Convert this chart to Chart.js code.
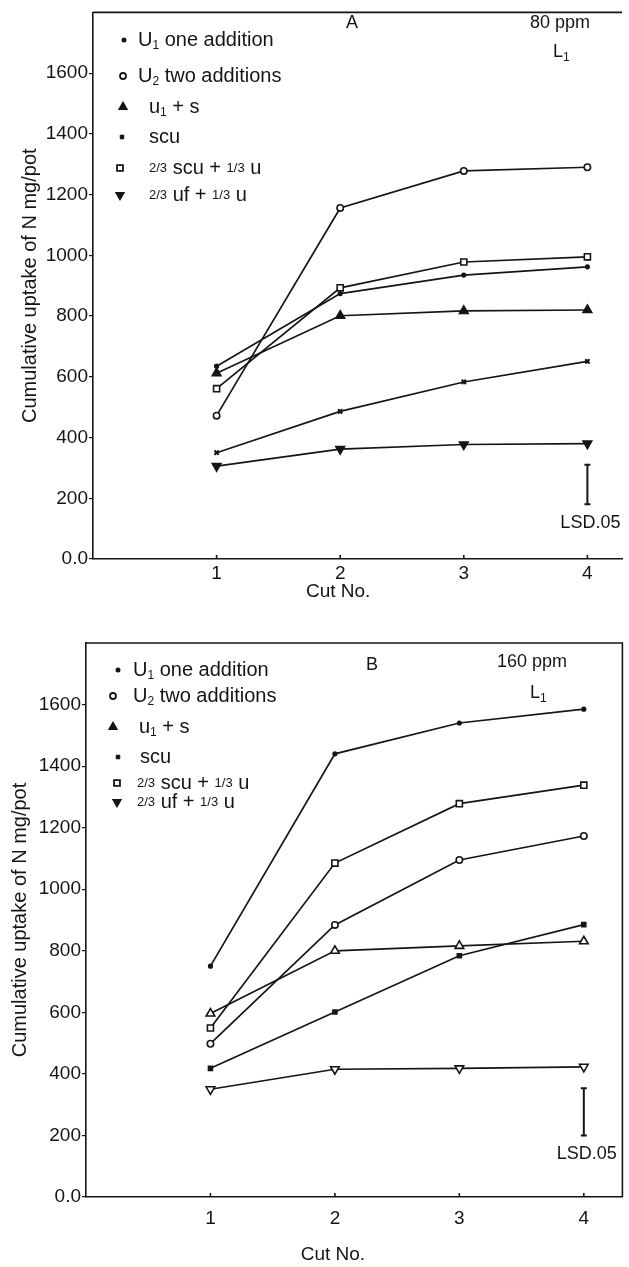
<!DOCTYPE html>
<html>
<head>
<meta charset="utf-8">
<script src="https://cdn.jsdelivr.net/npm/chart.js@4.4.1/dist/chart.umd.min.js"></script>
<style>
  html, body { margin: 0; padding: 0; background: #fff; }
  #wrap { position: relative; width: 629px; height: 1267px; }
  canvas { position: absolute; left: 0; }
</style>
</head>
<body>
<div id="wrap">
  <canvas id="chartA" width="629" height="630" style="top:0"></canvas>
  <canvas id="chartB" width="629" height="637" style="top:630px"></canvas>
</div>
<script>
// cut numbers (x axis) and y tick values
const cuts = [1, 2, 3, 4];
const yTicks = [0, 200, 400, 600, 800, 1000, 1200, 1400, 1600];
const seriesNames = ['U1 one addition', 'U2 two additions', 'u1 + s', 'scu', '2/3 scu + 1/3 u', '2/3 uf + 1/3 u'];

// panel A, 80 ppm
const aU1 = [635, 874, 935, 962];
const aU2 = [472, 1156, 1278, 1290];
const aU1s = [612, 801, 817, 820];
const aScu = [350, 486, 583, 651];
const aScuU = [561, 893, 978, 995];
const aUfU = [306, 362, 377, 380];
const aLsd = [180, 310];

// panel B, 160 ppm
const bU1 = [750, 1440, 1540, 1585];
const bU2 = [498, 884, 1095, 1173];
const bU1s = [596, 800, 816, 831];
const bScu = [418, 601, 784, 885];
const bScuU = [549, 1085, 1278, 1338];
const bUfU = [350, 415, 418, 423];
const bLsd = [200, 353];

const ink = '#151515';
const FONT = '"Liberation Sans", Arial, sans-serif';

function pts(vals) {
  return cuts.map((c, i) => ({ x: c, y: vals[i] }));
}

function ds(label, vals, style) {
  return Object.assign({
    label: label,
    data: pts(vals),
    borderColor: ink,
    borderWidth: 1.7,
    tension: 0,
    fill: false,
    pointBorderColor: ink,
    pointBorderWidth: 1.6,
    pointBackgroundColor: ink
  }, style);
}

// legend rows: marker style + rich text pieces
const legendRows = [
  { mk: { pointStyle: 'circle', radius: 1.6, fill: true },
    txt: [['U', 20], ['1', 12, 6], [' one addition', 20]] },
  { mk: { pointStyle: 'circle', radius: 3, fill: false },
    txt: [['U', 20], ['2', 12, 6], [' two additions', 20]] },
  { mk: { pointStyle: 'triangle', radius: 4.2, fill: true },
    txt: [['u', 20], ['1', 12, 6], [' + s', 20]] },
  { mk: { pointStyle: 'crossRot', radius: 2.6, fill: true },
    txt: [['scu', 20]] },
  { mk: { pointStyle: 'rect', radius: 4.2, fill: false },
    txt: [['2/3', 13], [' scu + ', 20], ['1/3', 13], [' u', 20]] },
  { mk: { pointStyle: 'triangle', radius: 4.2, rotation: 180, fill: true },
    txt: [['2/3', 13], [' uf + ', 20], ['1/3', 13], [' u', 20]] }
];

function drawMarker(ctx, mk, x, y) {
  ctx.fillStyle = mk.fill ? ink : '#fff';
  ctx.strokeStyle = ink;
  ctx.lineWidth = mk.pointStyle === 'crossRot' ? 2.4 : 1.8;
  Chart.helpers.drawPoint(ctx, {
    pointStyle: mk.pointStyle, radius: mk.radius, rotation: mk.rotation || 0, borderWidth: ctx.lineWidth
  }, x, y);
}

function drawRich(ctx, pieces, x, y) {
  ctx.textBaseline = 'middle';
  ctx.textAlign = 'left';
  pieces.forEach(p => {
    ctx.font = p[1] + 'px ' + FONT;
    ctx.fillText(p[0], x, y + (p[2] || 0));
    x += ctx.measureText(p[0]).width;
  });
}

const panelDecor = {
  id: 'panelDecor',
  afterDraw(chart, args, o) {
    const ctx = chart.ctx, a = chart.chartArea;
    const xs = chart.scales.x, ys = chart.scales.y;
    ctx.save();
    ctx.strokeStyle = ink;
    ctx.fillStyle = ink;
    ctx.lineWidth = 1.6;

    // frame: top (and right for B)
    ctx.beginPath();
    ctx.moveTo(a.left, a.top);
    ctx.lineTo(a.right, a.top);
    if (o.rightBorder) ctx.lineTo(a.right, a.bottom);
    ctx.stroke();

    // small tick marks on the x axis, pointing inward
    cuts.forEach(c => {
      const x = xs.getPixelForValue(c);
      ctx.beginPath();
      ctx.moveTo(x, a.bottom);
      ctx.lineTo(x, a.bottom - 4);
      ctx.stroke();
    });

    // x axis title sits under cut 2 in the original
    ctx.font = '19px ' + FONT;
    ctx.textAlign = 'center';
    ctx.textBaseline = 'middle';
    ctx.fillText('Cut No.', xs.getPixelForValue(2) - 2, o.xTitleY);

    // LSD bar
    const lx = xs.getPixelForValue(4);
    const y1 = ys.getPixelForValue(o.lsd[0]), y2 = ys.getPixelForValue(o.lsd[1]);
    ctx.lineWidth = 2;
    ctx.beginPath();
    ctx.moveTo(lx, y1); ctx.lineTo(lx, y2);
    ctx.moveTo(lx - 3, y1); ctx.lineTo(lx + 3, y1);
    ctx.moveTo(lx - 3, y2); ctx.lineTo(lx + 3, y2);
    ctx.stroke();
    ctx.font = '18px ' + FONT;
    ctx.fillText('LSD.05', lx + 3, ys.getPixelForValue(o.lsdLabel));

    // panel letter, rate and L1
    ctx.fillText(o.letter, o.letterXY[0], o.letterXY[1]);
    ctx.fillText(o.ppm, o.ppmXY[0], o.ppmXY[1]);
    drawRich(ctx, [['L', 18], ['1', 12, 6]], o.lXY[0], o.lXY[1]);

    // legend
    legendRows.forEach((r, i) => {
      drawMarker(ctx, r.mk, o.legMkX[i], o.legY[i]);
      ctx.fillStyle = ink;
      drawRich(ctx, r.txt, o.legTxtX[i], o.legY[i]);
    });
    ctx.restore();
  }
};

function makeChart(id, sets, cfg) {
  return new Chart(document.getElementById(id), {
    type: 'line',
    data: { datasets: sets },
    options: {
      responsive: false,
      animation: false,
      events: [],
      layout: { padding: cfg.padding },
      plugins: {
        legend: { display: false },
        tooltip: { enabled: false },
        panelDecor: cfg.decor
      },
      scales: {
        x: {
          type: 'linear',
          min: 0,
          max: cfg.xMax,
          afterBuildTicks: s => { s.ticks = cuts.map(v => ({ value: v })); },
          afterFit: s => { s.height = cfg.xHeight; },
          grid: { display: false, drawTicks: false },
          border: { display: true, color: ink, width: 1.6 },
          ticks: {
            color: ink,
            padding: cfg.xTickPad,
            font: { family: FONT, size: 19 },
            maxRotation: 0
          },
          title: { display: false, text: 'Cut No.' }
        },
        y: {
          type: 'linear',
          min: 0,
          max: 1800,
          afterBuildTicks: s => { s.ticks = yTicks.map(v => ({ value: v })); },
          afterFit: s => { s.width = cfg.yWidth; },
          grid: { display: true, drawOnChartArea: false, drawTicks: true, tickLength: 4, color: ink, lineWidth: 1.2 },
          border: { display: true, color: ink, width: 1.6 },
          ticks: {
            color: ink,
            padding: 1,
            font: { family: FONT, size: 19 },
            callback: v => (v === 0 ? '0.0' : String(v))
          },
          title: {
            display: true,
            text: 'Cumulative uptake of N mg/pot',
            color: ink,
            font: { family: FONT, size: 20 },
            padding: { top: cfg.yTitlePad, bottom: 0 }
          }
        }
      }
    },
    plugins: [panelDecor]
  });
}

const openW = '#fff';

makeChart('chartA', [
  ds(seriesNames[0], aU1, { pointStyle: 'circle', pointRadius: 1.8 }),
  ds(seriesNames[1], aU2, { pointStyle: 'circle', pointRadius: 3.2, pointBackgroundColor: openW }),
  ds(seriesNames[2], aU1s, { pointStyle: 'triangle', pointRadius: 5 }),
  ds(seriesNames[3], aScu, { pointStyle: 'crossRot', pointRadius: 3, pointBorderWidth: 2.2 }),
  ds(seriesNames[4], aScuU, { pointStyle: 'rect', pointRadius: 4.3, pointBackgroundColor: openW }),
  ds(seriesNames[5], aUfU, { pointStyle: 'triangle', pointRotation: 180, pointRadius: 5 })
], {
  padding: { top: 8, right: 7, left: 0, bottom: 0 },
  xMax: 4.28, xHeight: 71, xTickPad: 3,
  yWidth: 93, yTitlePad: 18,
  decor: {
    rightBorder: false, lsd: aLsd, lsdLabel: 120, xTitleY: 592,
    letter: 'A', letterXY: [352, 23], ppm: '80 ppm', ppmXY: [560, 23], lXY: [553, 52],
    legY: [40, 76, 107, 137, 168, 195],
    legMkX: [124, 123, 123, 122, 120, 120],
    legTxtX: [138, 138, 149, 149, 149, 149]
  }
});

makeChart('chartB', [
  ds(seriesNames[0], bU1, { pointStyle: 'circle', pointRadius: 1.8 }),
  ds(seriesNames[1], bU2, { pointStyle: 'circle', pointRadius: 3.2, pointBackgroundColor: openW }),
  ds(seriesNames[2], bU1s, { pointStyle: 'triangle', pointRadius: 5, pointBackgroundColor: openW }),
  ds(seriesNames[3], bScu, { pointStyle: 'rect', pointRadius: 2.8 }),
  ds(seriesNames[4], bScuU, { pointStyle: 'rect', pointRadius: 4.3, pointBackgroundColor: openW }),
  ds(seriesNames[5], bUfU, { pointStyle: 'triangle', pointRotation: 180, pointRadius: 5, pointBackgroundColor: openW })
], {
  padding: { top: 13, right: 4, left: 0, bottom: 0 },
  xMax: 4.31, xHeight: 70, xTickPad: 10,
  yWidth: 86, yTitlePad: 8,
  decor: {
    rightBorder: true, lsd: bLsd, lsdLabel: 140, xTitleY: 625,
    letter: 'B', letterXY: [372, 35], ppm: '160 ppm', ppmXY: [532, 32], lXY: [530, 63],
    legY: [40, 66, 97, 127, 153, 172],
    legMkX: [118, 113, 113, 118, 117, 117],
    legTxtX: [133, 133, 139, 140, 137, 137]
  }
});
</script>
</body>
</html>
